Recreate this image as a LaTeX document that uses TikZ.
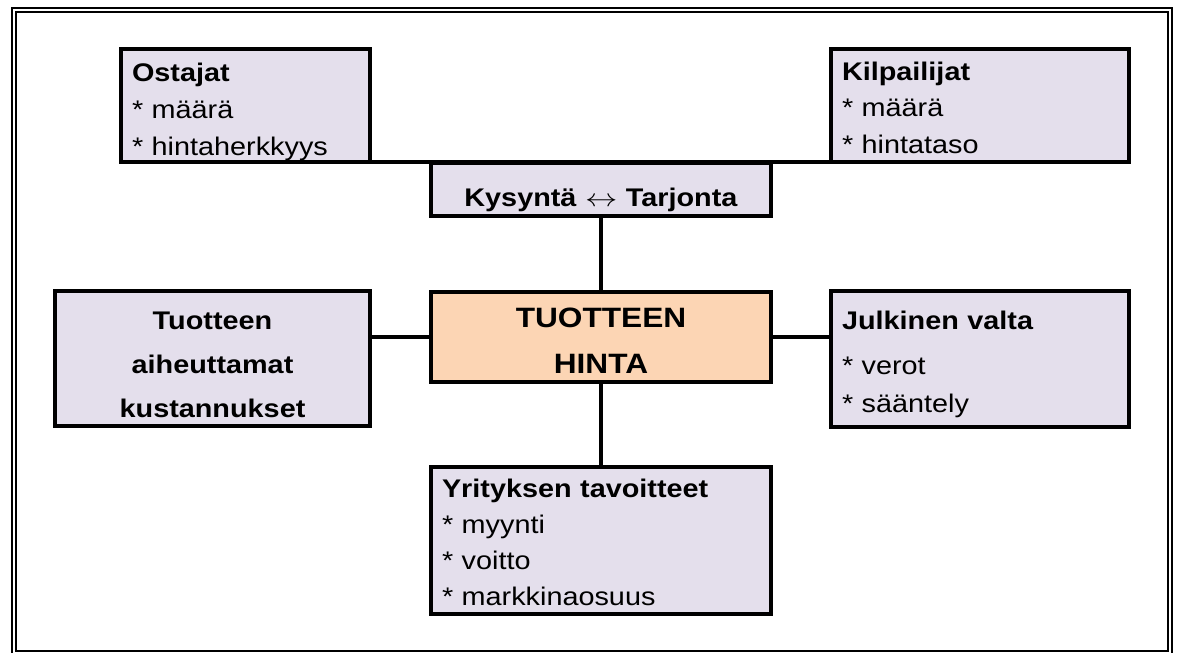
\documentclass[tikz,border=0pt]{standalone}
\usepackage{fontspec}
\setmainfont{Liberation Sans}[FakeStretch=1.13]
\definecolor{boxfill}{HTML}{E4DFEC}
\definecolor{pricefill}{HTML}{FCD5B4}
\begin{document}
\begin{tikzpicture}
          [x=1pt,y=-1pt,line width=3.2pt,
           every node/.style={draw,fill=boxfill,inner sep=0pt,outer sep=0pt,anchor=north west,
                              font=\fontsize{25.5}{37}\selectfont},
           listbox/.style={align=left,inner xsep=11pt}]
          \useasboundingbox (0,0) rectangle (1178,653);
          \draw[line width=1.3pt] (12,8) rectangle (1172,670);
          \draw[line width=1.3pt] (16,12) rectangle (1168,651);

          \node[listbox,minimum width=249,minimum height=113,text width=227,
                text height=32,text depth=81] (ostajat) at (121,49)
                {\textbf{Ostajat}\\{*} määrä\\{*} hintaherkkyys};
          \node[listbox,minimum width=298,minimum height=113,text width=276,
                text height=31,text depth=82,font=\fontsize{25.5}{36.5}\selectfont] (kilpailijat) at (831,49)
                {\textbf{Kilpailijat}\\{*} määrä\\{*} hintataso};
          \node[align=center,minimum width=340,minimum height=53,text width=340,
                text height=43,text depth=10] (kysynta) at (431,163)
                {\textbf{Kysyntä \scalebox{1.3}[1]{$\leftrightarrow$} Tarjonta}};
          \node[align=center,fill=pricefill,minimum width=340,minimum height=90,text width=340,
                text height=35,text depth=55,font=\fontsize{28}{46}\selectfont] (hinta) at (431,292)
                {\textbf{TUOTTEEN}\\ \textbf{HINTA}};
          \node[align=center,minimum width=315,minimum height=135,text width=315,
                text height=38,text depth=97,font=\fontsize{25.5}{44}\selectfont] (tuotteen) at (55,291)
                {\textbf{Tuotteen}\\ \textbf{aiheuttamat}\\ \textbf{kustannukset}};
          \node[listbox,minimum width=298,minimum height=136,text width=276,
                text height=38,text depth=98,font=\fontsize{25.5}{38}\selectfont] (julkinen) at (831,291)
                {\textbf{Julkinen valta}\\[7pt]{*} verot\\{*} sääntely};
          \node[listbox,minimum width=340,minimum height=147,text width=318,
                text height=30,text depth=117,font=\fontsize{25.5}{36}\selectfont] (yritys) at (431,467)
                {\textbf{Yrityksen tavoitteet}\\{*} myynti\\{*} voitto\\{*} markkinaosuus};

          \foreach \from/\to in {ostajat.south east/kilpailijat.south west,kysynta.south/hinta.north,hinta.south/yritys.north}
            \draw (\from) -- (\to);
          \draw (hinta.west) -- (hinta.west -| tuotteen.east);
          \draw (hinta.east) -- (hinta.east -| julkinen.west);

        \end{tikzpicture}
\end{document}
